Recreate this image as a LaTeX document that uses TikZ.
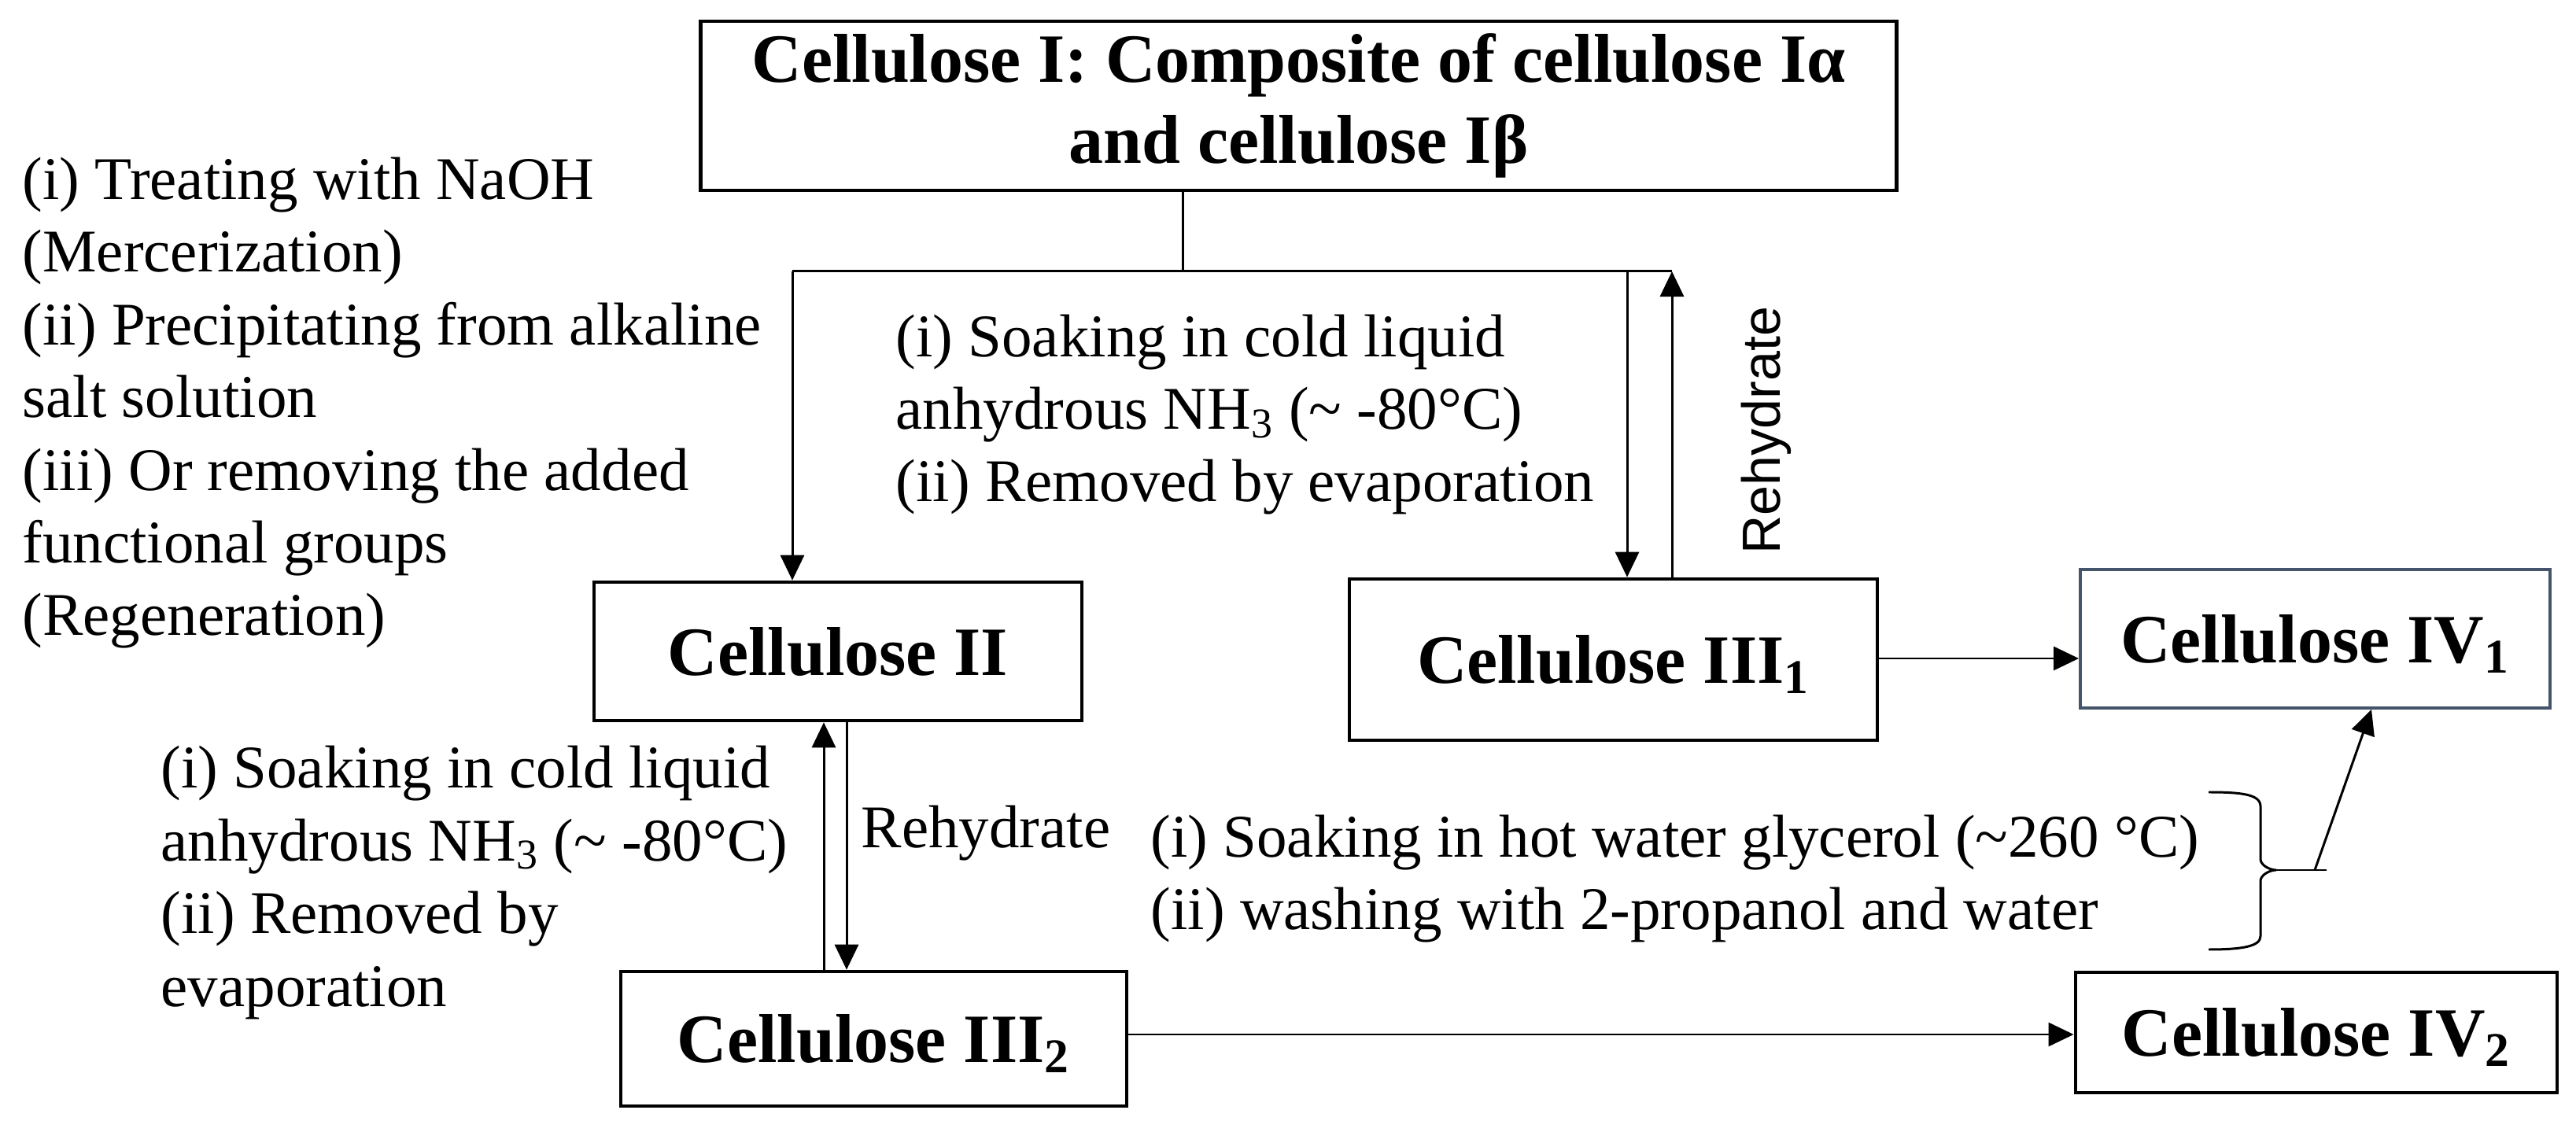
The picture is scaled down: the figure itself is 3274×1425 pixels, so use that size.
\documentclass[tikz,border=0pt]{standalone}
\usepackage{fontspec}
\setmainfont{Liberation Serif}
\newfontfamily\rehfont{Liberation Sans}
\usetikzlibrary{arrows.meta}
\newcommand\regfnt{\fontsize{21.9pt}{26.3pt}\selectfont}
\newcommand\boldfnt{\fontsize{25pt}{29.3pt}\selectfont\bfseries}
\begin{document}
\begin{tikzpicture}[x=0.01cm,y=-0.01cm,
  boxbase/.style={draw=black, line width=1.28pt, inner sep=0pt, font=\boldfnt},
  box/.style={boxbase, text height=0.6cm, text depth=0pt},
  arr/.style={-{Triangle[length=0.32cm,width=0.3cm]}, line width=0.85pt},
  ln/.style={line width=0.85pt},
  txt/.style={inner sep=0pt, anchor=base west, align=left, font=\regfnt}]
\useasboundingbox (0,0) rectangle (3274,1425);

% boxes
\node[boxbase, minimum width=15.19cm, minimum height=2.15cm, align=center] (top) at (1650.5,134.5)
  {Cellulose I: Composite of cellulose Iα\\and cellulose Iβ};
\node[box, minimum width=6.20cm, minimum height=1.76cm] (II) at (1065,828) {Cellulose II};
\node[box, minimum width=6.71cm, minimum height=2.05cm] (III1) at (2050.5,838.5) {Cellulose III\textsubscript{1}};
\node[box, draw={rgb,255:red,68;green,84;blue,106}, line width=1pt, minimum width=5.97cm, minimum height=1.76cm] (IV1) at (2942.5,812) {Cellulose IV\textsubscript{1}};
\node[box, minimum width=6.43cm, minimum height=1.71cm] (III2) at (1110.5,1320.5) {Cellulose III\textsubscript{2}};
\node[box, minimum width=6.12cm, minimum height=1.53cm] (IV2) at (2944,1312.5) {Cellulose IV\textsubscript{2}};

% text blocks (anchor = baseline of the last line)
\node[txt] (tA) at (28,808) {(i) Treating with NaOH\\(Mercerization)\\(ii) Precipitating from alkaline\\salt solution\\(iii) Or removing the added\\functional groups\\(Regeneration)};
\node[txt] (tB) at (1138,638) {(i) Soaking in cold liquid\\anhydrous NH\textsubscript{3} (\textasciitilde{} -80°C)\\(ii) Removed by evaporation};
\node[txt] (tC) at (204,1279) {(i) Soaking in cold liquid\\anhydrous NH\textsubscript{3} (\textasciitilde{} -80°C)\\(ii) Removed by\\evaporation};
\node[txt] (tR) at (1094,1078) {Rehydrate};
\node[txt] (tD) at (1462,1182) {(i) Soaking in hot water glycerol (\textasciitilde260 °C)\\(ii) washing with 2-propanol and water};
\node[inner sep=0pt, anchor=base west, rotate=90, font=\fontsize{19.4pt}{23pt}\selectfont\rehfont] (tR2) at (2262,705) {Rehydrate};

% junction lines
\coordinate (j0) at (1503,345);
\coordinate (jL) at (1007,345);
\coordinate (jM) at (2068,345);
\coordinate (jR) at (2125,345);
\draw[ln] (top.south -| j0) -- (j0);
\draw[ln] (jL) -- (jR);
\draw[arr] (jL) -- (II.north -| jL);
\draw[arr] (jM) -- (III1.north -| jM);
\draw[arr] (III1.north -| jR) -- (jR);

% II <-> III2
\coordinate (xu) at (1047,1000);
\coordinate (xd) at (1076,1000);
\draw[arr] (III2.north -| xu) -- (II.south -| xu);
\draw[arr] (II.south -| xd) -- (III2.north -| xd);

% to IV
\coordinate (r1) at (2390,837);
\coordinate (r2) at (1440,1315);
\draw[arr] (III1.east |- r1) -- (IV1.west |- r1);
\draw[arr] (III2.east |- r2) -- (IV2.west |- r2);

% brace
\draw[ln] (2807,1007) .. controls (2850,1007) and (2873,1010) .. (2873,1025) -- (2873,1092)
  .. controls (2873,1100) and (2885,1106) .. (2893,1106)
  .. controls (2885,1106) and (2873,1112) .. (2873,1120) -- (2873,1190)
  .. controls (2873,1203) and (2850,1207) .. (2807,1207);
\coordinate (btip) at (2893,1106);
\coordinate (bend) at (2957,1106);
\coordinate (bstart) at (2942,1106);
\coordinate (ivx) at (3014,0);
\draw[ln] (btip) -- (bend);
\draw[arr] (bstart) -- (IV1.south -| ivx);
\end{tikzpicture}
\end{document}
